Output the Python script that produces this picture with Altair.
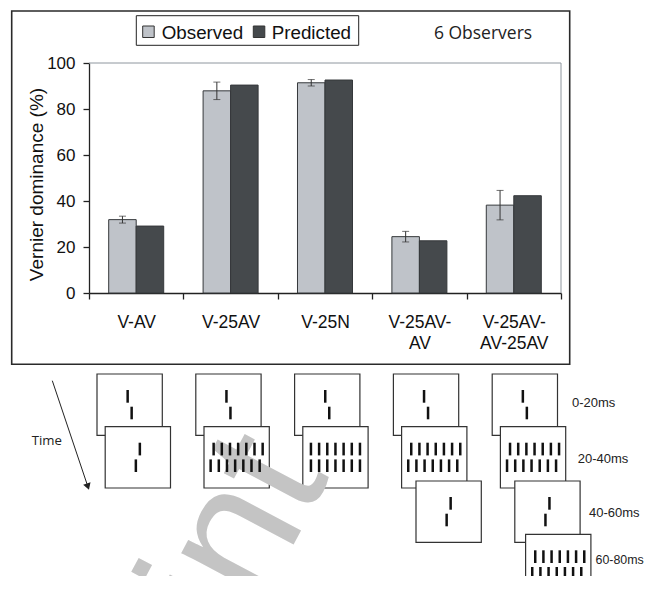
import altair as alt
import pandas as pd

# ---------------- data ----------------
categories = ["V-AV", "V-25AV", "V-25N", "V-25AV-\nAV", "V-25AV-\nAV-25AV"]
series = ["Observed", "Predicted"]
observed = [31.9, 87.9, 91.4, 24.5, 38.2]
observed_err = [1.5, 3.8, 1.4, 2.3, 6.4]
predicted = [29.1, 90.4, 92.6, 22.7, 42.3]
y_ticks = [0, 20, 40, 60, 80, 100]

frames = [["V", "AV"], ["V", "25AV"], ["V", "25N"],
          ["V", "25AV", "AV"], ["V", "25AV", "AV", "25AV"]]
time_labels = ["0-20ms", "20-40ms", "40-60ms", "60-80ms"]
n_observers_text = "6 Observers"

# ---------------- layout ----------------
W, H = 472, 230
OX, OY = 89, 63          # plot origin on the page
TOTAL_W, TOTAL_H = 636, 568
SANS = "Liberation Sans"
HUM = "Open Sans"
OBS_FILL, PRED_FILL = "#bfc3c9", "#45494c"

bars_df = pd.DataFrame({
    "cat": categories * 2,
    "series": [series[0]] * len(categories) + [series[1]] * len(categories),
    "value": observed + predicted,
})
err_df = pd.DataFrame({
    "cat": categories,
    "series": series[0],
    "lo": [o - e for o, e in zip(observed, observed_err)],
    "hi": [o + e for o, e in zip(observed, observed_err)],
})
cap_df = pd.concat([
    err_df[["cat", "series"]].assign(v=err_df["lo"]),
    err_df[["cat", "series"]].assign(v=err_df["hi"]),
])

x_axis = alt.Axis(title=None, labelAngle=0, labelExpr="split(datum.label, '\\n')",
                  tickBand="extent", tickSize=6, labelPadding=14, labelFontSize=17.5,
                  labelLineHeight=21, labelFont=SANS, labelColor="#111",
                  domainColor="#222", tickColor="#222", domainWidth=1.3, tickWidth=1.3,
                  labelBaseline="top")
x_enc = alt.X("cat:N", sort=categories, scale=alt.Scale(paddingInner=0, paddingOuter=0),
              axis=x_axis)
xoff = alt.XOffset("series:N", sort=series,
                   scale=alt.Scale(paddingInner=0, paddingOuter=0.716))
y_scale = alt.Scale(domain=[0, 100], nice=False)
y_axis = alt.Axis(values=y_ticks, grid=False, tickSize=6, labelPadding=8, labelFontSize=17,
                  labelFont=SANS, labelColor="#111", domainColor="#222", tickColor="#222",
                  domainWidth=1.3, tickWidth=1.3, title="Vernier dominance (%)",
                  titleFont=SANS, titleFontSize=19, titleFontWeight="normal",
                  titleColor="#111", titleAngle=270, titleX=-53, titleY=121,
                  titleAlign="center", titleBaseline="middle")
color_scale = alt.Scale(domain=series, range=[OBS_FILL, PRED_FILL])

bars = alt.Chart(bars_df).mark_bar(stroke="#35383b", strokeWidth=1).encode(
    x=x_enc, xOffset=xoff,
    y=alt.Y("value:Q", scale=y_scale, axis=y_axis),
    color=alt.Color("series:N", sort=series, scale=color_scale, legend=None),
)
err_rule = alt.Chart(err_df).mark_rule(color="#333", strokeWidth=1).encode(
    x=x_enc, xOffset=xoff, y=alt.Y("lo:Q", scale=y_scale, axis=y_axis), y2="hi:Q")
caps = alt.Chart(cap_df).mark_tick(color="#333", thickness=1, size=7,
                                   orient="horizontal").encode(
    x=x_enc, xOffset=xoff, y=alt.Y("v:Q", scale=y_scale, axis=y_axis))

bar_part = alt.layer(bars, err_rule, caps)


def px(f):
    return alt.X(f, scale=None, axis=None)


def py(f):
    return alt.Y(f, scale=None, axis=None)


one = pd.DataFrame({"a": [0]})

# outer frame and plot frame
outer = alt.Chart(one).mark_rect(
    fillOpacity=0, stroke="#2a2a2a", strokeWidth=1.6).encode(
    x=alt.value(11.7 - OX), x2=alt.value(569.7 - OX),
    y=alt.value(11 - OY), y2=alt.value(364.3 - OY))
frame_top = alt.Chart(one).mark_rule(color="#8e969e", strokeWidth=1).encode(
    x=alt.value(0), x2=alt.value(W), y=alt.value(0))
frame_right = alt.Chart(one).mark_rule(color="#8e969e", strokeWidth=1).encode(
    x=alt.value(W), y=alt.value(0), y2=alt.value(H))
obs_text = alt.Chart(pd.DataFrame({"t": [n_observers_text]})).mark_text(
    font=HUM, fontSize=17.5, color="#222", align="center", baseline="middle").encode(
    x=alt.value(483 - OX), y=alt.value(33.5 - OY), text="t:N")

# legend (drawn by hand, boxed)
LEG_SYM_X = [142.7 - OX, 253.3 - OX]
LEG_TXT_X = [161.7 - OX, 271.7 - OX]
legend_df = pd.DataFrame({"series": series, "sx": LEG_SYM_X,
                          "sx2": [v + 11.5 for v in LEG_SYM_X], "tx": LEG_TXT_X})
leg_box = alt.Chart(one).mark_rect(fill="white", stroke="#222", strokeWidth=1).encode(
    x=alt.value(136.3 - OX), x2=alt.value(358.7 - OX),
    y=alt.value(15.7 - OY), y2=alt.value(45.3 - OY))
leg_sym = alt.Chart(legend_df).mark_rect(stroke="#333", strokeWidth=1).encode(
    x=px("sx:Q"), x2="sx2:Q", y=alt.value(26 - OY), y2=alt.value(37.5 - OY),
    color=alt.Color("series:N", sort=series, scale=color_scale, legend=None))
leg_txt = alt.Chart(legend_df).mark_text(font=SANS, fontSize=18.8, color="#111",
                                         align="left", baseline="alphabetic").encode(
    x=px("tx:Q"), y=alt.value(39 - OY), text="series:N")

# ---------------- stimulus diagram ----------------
GROUP_X0 = 97 - OX
GROUP_STEP = 98.8
FRAME_DX = [0, 8.2, 22.6, 33.4]
FRAME_TOP = [374 - OY, 426.7 - OY, 481 - OY, 534.3 - OY]
BOX_W, BOX_H = 65.3, 61.3
SPACING = 8.17

box_rows, line_rows = [], []
for gi, seq in enumerate(frames):
    for fi, kind in enumerate(seq):
        left = GROUP_X0 + gi * GROUP_STEP + FRAME_DX[fi]
        top = FRAME_TOP[fi]
        box_rows.append({"x1": left, "x2": left + BOX_W, "y1": top, "y2": top + BOX_H})
        cx, cy = left + BOX_W / 2, top + BOX_H / 2
        if kind in ("V", "AV"):
            s = -2 if kind == "V" else 2
            elems = [(cx + s, cx - s)]
        else:
            s = 1.5 if kind == "25AV" else 0
            elems = [(cx + k * SPACING + s, cx + k * SPACING - s) for k in range(-3, 4)]
        for xt, xb in elems:
            line_rows.append({"x": xt, "y1": cy - 14.65, "y2": cy - 1.95})
            line_rows.append({"x": xb, "y1": cy + 2.05, "y2": cy + 14.65})

boxes_df = pd.DataFrame(box_rows)
lines_df = pd.DataFrame(line_rows)
time_df = pd.DataFrame({
    "t": time_labels,
    "x": [572 - OX, 577.7 - OX, 589 - OX, 595.5 - OX],
    "y": [403 - OY, 459 - OY, 512.7 - OY, 560 - OY],
    "fs": [13, 13, 13, 12.4],
})

boxes = alt.Chart(boxes_df).mark_rect(fill="white", stroke="#333", strokeWidth=1.2).encode(
    x=px("x1:Q"), x2="x2:Q", y=py("y1:Q"), y2="y2:Q")
lines = alt.Chart(lines_df).mark_rule(color="#111", strokeWidth=2.5).encode(
    x=px("x:Q"), y=py("y1:Q"), y2="y2:Q")
tlabels = alt.Chart(time_df).mark_text(font=SANS, color="#222",
                                       align="left", baseline="middle").encode(
    x=px("x:Q"), y=py("y:Q"), text="t:N",
    size=alt.Size("fs:Q", scale=None, legend=None))
watermark = alt.Chart(pd.DataFrame({"t": ["Preprint"]})).mark_text(
    font=SANS, fontSize=180, color="#c4c4c4", align="right", baseline="alphabetic",
    angle=298).encode(x=alt.value(330 - OX), y=alt.value(476 - OY), text="t:N")
time_text = alt.Chart(pd.DataFrame({"t": ["Time"]})).mark_text(
    font=HUM, fontSize=13.2, color="#222", align="left", baseline="middle").encode(
    x=alt.value(31.7 - OX), y=alt.value(440.7 - OY), text="t:N")
arrow = alt.Chart(one).mark_rule(color="#222", strokeWidth=1).encode(
    x=alt.value(52.3 - OX), y=alt.value(380.7 - OY),
    x2=alt.value(88 - OX), y2=alt.value(487 - OY))
arrow_head = alt.Chart(one).mark_point(
    shape="triangle-down", filled=True, size=60, color="#222", opacity=1,
    angle=341.4).encode(x=alt.value(87.9 - OX), y=alt.value(486.6 - OY))

chart = alt.layer(
    outer, frame_top, frame_right, bar_part, leg_box, leg_sym, leg_txt, obs_text,
    boxes, watermark, lines, tlabels, time_text, arrow, arrow_head,
).properties(
    width=W, height=H,
    padding={"left": OX - 8, "top": OY - 8, "right": TOTAL_W - (OX - 8) - W,
             "bottom": TOTAL_H - (OY - 8) - H},
    autosize=alt.AutoSizeParams(type="none"),
).configure_view(stroke=None)

chart.save("out.html", embed_options={"renderer": "svg", "actions": False})
